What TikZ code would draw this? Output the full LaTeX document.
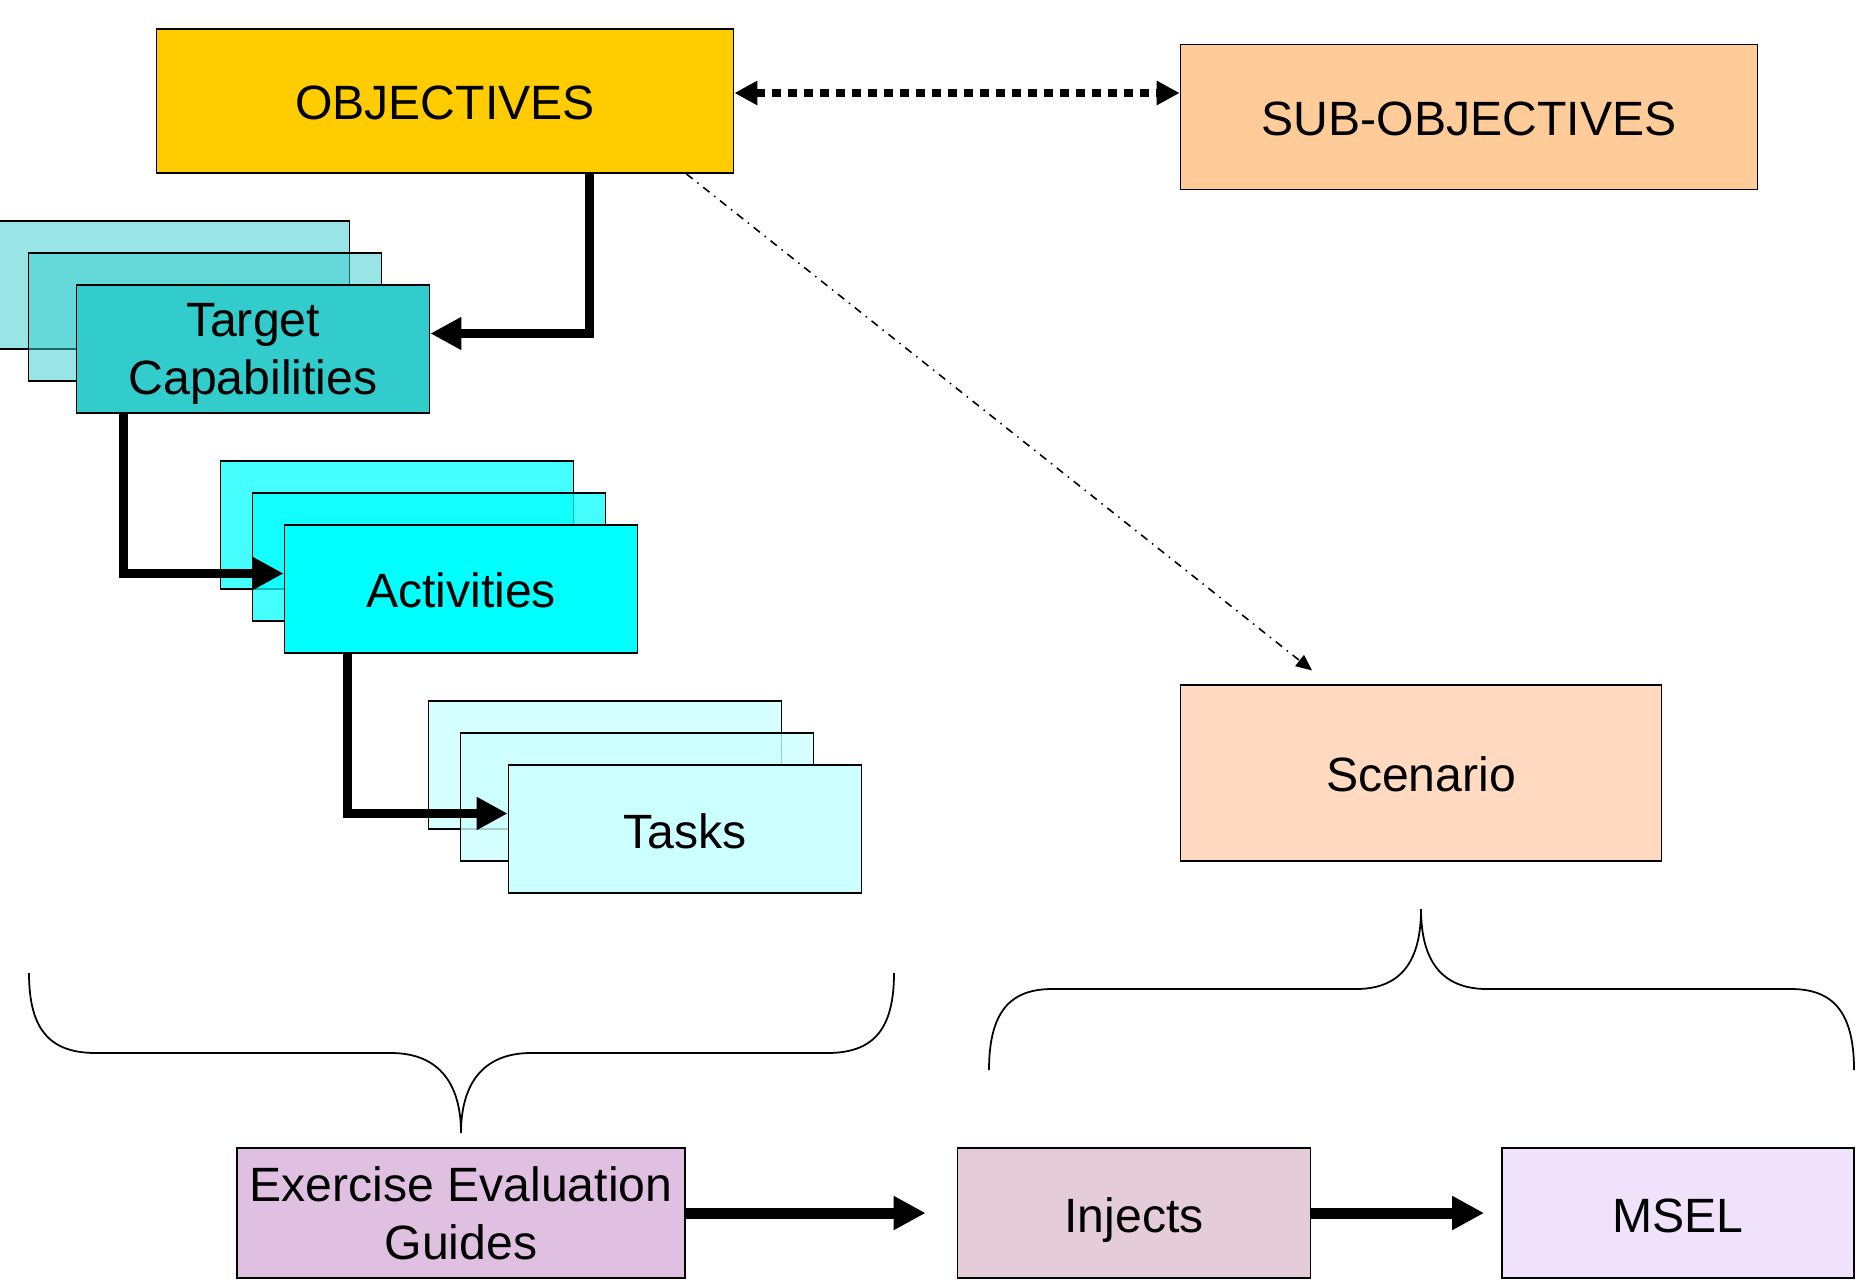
\documentclass[tikz,border=0pt]{standalone}
\usepackage{fontspec}
\setmainfont{Liberation Sans}
\usetikzlibrary{positioning}
\usetikzlibrary{calc}
\usetikzlibrary{arrows.meta}
\definecolor{objective fill}{HTML}{FFCC00}
\definecolor{subobjective fill}{HTML}{FFCC99}
\definecolor{capability fill}{HTML}{33CCCC}
\definecolor{activity fill}{HTML}{00FFFF}
\definecolor{task fill}{HTML}{CCFFFF}
\definecolor{scenario fill}{HTML}{FFDAC0}
\definecolor{guide fill}{HTML}{E0C0E0}
\definecolor{inject fill}{HTML}{E4CCD8}
\definecolor{msel fill}{HTML}{F0E2FB}
\tikzset{
    % Heavy black connector with a broad triangular head
    flow/.style={line width=0.9mm, -{Triangle[length=3.1mm, width=3.1mm]}},
%
    % Same again, a little heavier, for the bottom row
    heavy flow/.style={line width=1.1mm, -{Triangle[length=3.2mm, width=3.2mm]}},
%
    % Square dotted link in both directions
    dotted link/.style={line width=0.8mm, dash pattern=on 0.9mm off 0.7mm,
        {Triangle[length=2.3mm, width=2.3mm]}-{Triangle[length=2.3mm, width=2.3mm]}},
%
    % Fine dash-dot pointer
    pointer/.style={line width=0.45pt,
        dash pattern=on 0.8mm off 0.6mm on 0.15mm off 0.6mm,
        -{Triangle[length=1.6mm, width=1.4mm]}},
%
    % Curly grouping lines
    brace line/.style={line width=0.5pt}}

\begin{document}
\begin{tikzpicture}[x=0.1mm, y=-0.1mm,
    box/.style={draw, line width=0.5pt, inner sep=1pt, align=center,
        text height=10.8pt, text depth=0pt},
    two lines/.style={text height=, text depth=0pt},
    card/.style={box, minimum width=35.3mm, minimum height=12.8mm},
    wide box/.style={box, minimum width=57.7mm, minimum height=14.4mm}]
\fontsize{13.7}{16.3}\selectfont
\useasboundingbox (0,0) rectangle (1873,1280);

% Objectives and sub-objectives along the top
\node[wide box, fill=objective fill] at (445,101) (obj) {OBJECTIVES};
\node[wide box, fill=subobjective fill, minimum height=14.5mm]
    at (1469,117) (sub) {SUB-OBJECTIVES};
\draw[dotted link] ([yshift=0.8mm]obj.east) -- ([yshift=0.8mm]obj.east -| sub.west);


% Stack of target capabilities
\coordinate (tc) at (253,349);
\node[card, fill=capability fill, fill opacity=.5] at ($(tc)+(-80,-64)$) (tc back) {};
\node[card, fill=capability fill, fill opacity=.5] at ($(tc)+(-48,-32)$) (tc mid) {};
\node[card, two lines, fill=capability fill] at (tc) (tc front) {Target\\Capabilities};

% Stack of activities
\coordinate (act) at (461,589);
\node[card, fill=activity fill, fill opacity=.73] at ($(act)+(-64,-64)$) (act back) {};
\node[card, fill=activity fill, fill opacity=.73] at ($(act)+(-32,-32)$) (act mid) {};
\node[card, fill=activity fill] at (act) (act front) {Activities};

% Stack of tasks
\coordinate (task) at (685,829);
\node[card, fill=task fill, fill opacity=.8] at ($(task)+(-80,-64)$) (task back) {};
\node[card, fill=task fill, fill opacity=.8] at ($(task)+(-48,-32)$) (task mid) {};
\node[card, fill=task fill] at (task) (task front) {Tasks};

\draw[flow] ($(obj.south west)!.75!(obj.south east)$) |- (tc front.5);
\draw[flow] ($(tc front.south west)+(48,0)$) |- (act front.175);
\draw[flow] ($(act front.south west)+(64,0)$) |- (task front.175);


% Scenario, reached from the objectives
\node[box, fill=scenario fill, minimum width=48.1mm, minimum height=17.6mm]
    at (1421,773) (scen) {Scenario};
\draw[pointer, shorten >=2.2mm]
    ($(obj.south west)!.917!(obj.south east)$) --
    ($(scen.north west)!.31!(scen.north east)$);


% Braces grouping the two halves
\draw[brace line] (29,973) .. controls (29,1030) and (50,1053) .. (96,1053)
    -- (391,1053) .. controls (440,1053) and (461,1085) .. (461,1133)
    .. controls (461,1085) and (482,1053) .. (531,1053)
    -- (827,1053) .. controls (873,1053) and (894,1030) .. (894,973);
\draw[brace line] (989,1070) .. controls (989,1012) and (1010,989) .. (1052,989)
    -- (1356,989) .. controls (1402,989) and (1421,960) .. (1421,909)
    .. controls (1421,960) and (1441,989) .. (1487,989)
    -- (1791,989) .. controls (1833,989) and (1854,1012) .. (1854,1070);


% Bottom row: guides, injects and the MSEL
\node[box, two lines, fill=guide fill, minimum width=44.8mm, minimum height=13mm]
    at (461,1213) (eeg) {Exercise Evaluation\\Guides};
\node[card, fill=inject fill, minimum height=13mm] at (1134,1213) (inj) {Injects};
\node[card, fill=msel fill, minimum width=35.2mm, minimum height=13mm]
    at (1678,1213) (msel) {MSEL};

\draw[heavy flow, shorten >=3.1mm] (eeg) -- (inj);
\draw[heavy flow, shorten >=1.7mm] (inj) -- (msel);
\end{tikzpicture}
\end{document}
